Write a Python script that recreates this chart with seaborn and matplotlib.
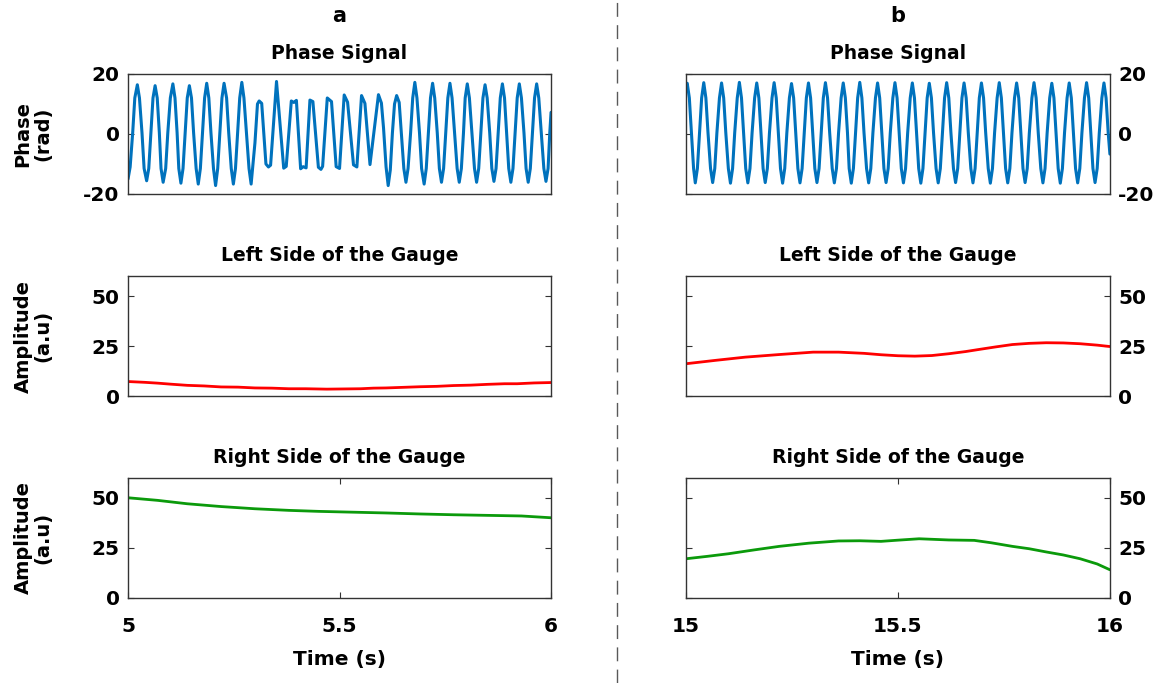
import numpy as np
import matplotlib.pyplot as plt
from matplotlib.lines import Line2D
import seaborn as sns

# ---- values ----
# panel a, phase signal (s, rad), read at roughly every eighth of a cycle
phase_a_t = [
    5.000, 5.005, 5.011, 5.016, 5.022, 5.027, 5.033, 5.038,
    5.044, 5.049, 5.054, 5.059, 5.064, 5.069, 5.074, 5.078,
    5.083, 5.089, 5.094, 5.100, 5.106, 5.111, 5.116, 5.120,
    5.125, 5.130, 5.135, 5.140, 5.145, 5.150, 5.155, 5.161,
    5.166, 5.171, 5.176, 5.181, 5.186, 5.191, 5.196, 5.202,
    5.207, 5.212, 5.217, 5.222, 5.227, 5.233, 5.238, 5.244,
    5.249, 5.254, 5.259, 5.264, 5.269, 5.274, 5.280, 5.286,
    5.291, 5.300, 5.306, 5.310, 5.316, 5.326, 5.332, 5.337,
    5.351, 5.368, 5.374, 5.386, 5.392, 5.398, 5.408, 5.414,
    5.421, 5.430, 5.437, 5.450, 5.456, 5.460, 5.471, 5.481,
    5.492, 5.500, 5.511, 5.519, 5.533, 5.541, 5.552, 5.560,
    5.572, 5.592, 5.599, 5.604, 5.610, 5.615, 5.620, 5.625,
    5.630, 5.635, 5.641, 5.646, 5.652,
    5.657, 5.662, 5.668, 5.673, 5.678, 5.683, 5.689, 5.694,
    5.700, 5.705, 5.710, 5.715, 5.720, 5.725, 5.731, 5.736,
    5.741, 5.746, 5.751, 5.756, 5.761, 5.766, 5.772, 5.778,
    5.783, 5.788, 5.793, 5.797, 5.802, 5.807, 5.813, 5.819,
    5.824, 5.829, 5.834, 5.839, 5.844, 5.849, 5.855, 5.860,
    5.865, 5.870, 5.875, 5.880, 5.885, 5.890, 5.895, 5.900,
    5.905, 5.910, 5.915, 5.920, 5.925, 5.930, 5.936, 5.941,
    5.946, 5.951, 5.956, 5.961, 5.966, 5.971, 5.977, 5.983,
    5.988, 5.993, 5.997, 6.000]
phase_a_v = [
    -15.0, -11.0, 0.4, 12.0, 16.4, 12.0, 0.4, -11.5,
    -15.6, -11.5, 0.4, 12.0, 16.1, 12.0, 0.4, -11.5,
    -16.1, -11.5, 0.4, 12.0, 16.7, 12.0, 0.4, -11.5,
    -16.4, -11.5, 0.4, 12.0, 16.1, 12.0, 0.4, -11.5,
    -16.7, -11.5, 0.4, 12.0, 16.9, 12.0, 0.4, -11.5,
    -17.2, -11.5, 0.4, 12.0, 16.9, 12.0, 0.4, -11.5,
    -16.7, -11.5, 0.4, 12.0, 17.2, 12.0, 0.4, -11.5,
    -16.7, -3.0, 10.0, 11.0, 10.2, -10.0, -11.0, -10.4,
    17.5, -11.4, -10.8, 11.0, 10.5, 11.2, -11.6, -10.9,
    -11.3, 11.3, 10.8, -11.1, -11.8, -10.8, 12.0, 10.8,
    -10.9, -11.5, 13.0, 10.6, -10.3, -11.0, 12.8, 10.2,
    -10.2, 13.1, 10.3, 2.0, -11.0, -17.2, -12.0, 0.4,
    10.0, 12.8, 10.5, 0.4, -11.5,
    -16.1, -11.5, 0.4, 12.0, 17.2, 12.0, 0.4, -11.5,
    -16.7, -11.5, 0.4, 12.0, 16.9, 12.0, 0.4, -11.5,
    -16.1, -11.5, 0.4, 12.0, 16.9, 12.0, 0.4, -11.5,
    -16.1, -11.5, 0.4, 12.0, 16.7, 12.0, 0.4, -11.5,
    -16.1, -11.5, 0.4, 12.0, 16.4, 12.0, 0.4, -11.5,
    -15.8, -11.5, 0.4, 12.0, 16.7, 12.0, 0.4, -11.5,
    -16.1, -11.5, 0.4, 12.0, 16.7, 12.0, 0.4, -11.5,
    -16.1, -11.5, 0.4, 12.0, 16.7, 12.0, 0.4, -11.5,
    -15.8, -11.5, 0.4, 7.2]

# panel b, phase signal
phase_b_t = [
    15.000,
    15.003, 15.008, 15.013, 15.018, 15.022, 15.027, 15.032, 15.037,
    15.042, 15.047, 15.052, 15.058, 15.063, 15.068, 15.073, 15.079,
    15.084, 15.089, 15.094, 15.100, 15.105, 15.110, 15.115, 15.121,
    15.126, 15.131, 15.136, 15.141, 15.146, 15.151, 15.156, 15.162,
    15.167, 15.172, 15.177, 15.182, 15.187, 15.192, 15.197, 15.203,
    15.208, 15.213, 15.218, 15.223, 15.228, 15.233, 15.238, 15.244,
    15.249, 15.254, 15.259, 15.264, 15.269, 15.274, 15.279, 15.284,
    15.289, 15.294, 15.299, 15.304, 15.309, 15.314, 15.319, 15.324,
    15.329, 15.334, 15.339, 15.345, 15.350, 15.355, 15.360, 15.366,
    15.371, 15.376, 15.381, 15.385, 15.390, 15.395, 15.400, 15.405,
    15.410, 15.415, 15.420, 15.426, 15.431, 15.436, 15.441, 15.447,
    15.452, 15.457, 15.462, 15.467, 15.472, 15.477, 15.482, 15.488,
    15.493, 15.498, 15.503, 15.508, 15.513, 15.518, 15.523, 15.529,
    15.534, 15.539, 15.544, 15.549, 15.554, 15.559, 15.564, 15.569,
    15.574, 15.579, 15.584, 15.590, 15.595, 15.600, 15.605, 15.610,
    15.615, 15.620, 15.625, 15.631, 15.636, 15.641, 15.646, 15.651,
    15.656, 15.661, 15.666, 15.672, 15.677, 15.682, 15.687, 15.692,
    15.697, 15.702, 15.707, 15.713, 15.718, 15.723, 15.728, 15.734,
    15.739, 15.744, 15.749, 15.754, 15.759, 15.764, 15.769, 15.775,
    15.780, 15.785, 15.790, 15.795, 15.800, 15.805, 15.810, 15.816,
    15.821, 15.826, 15.831, 15.837, 15.842, 15.847, 15.852, 15.858,
    15.863, 15.868, 15.873, 15.878, 15.883, 15.888, 15.893, 15.899,
    15.904, 15.909, 15.914, 15.919, 15.924, 15.929, 15.934, 15.940,
    15.945, 15.950, 15.955, 15.960, 15.965, 15.970, 15.975, 15.981,
    15.986, 15.991, 15.996, 16.000]
phase_b_v = [
    16.1,
    16.9, 12.0, 0.4, -11.5, -16.3, -11.5, 0.4, 12.0,
    17.1, 12.0, 0.4, -11.5, -16.2, -11.5, 0.4, 12.0,
    17.0, 12.0, 0.4, -11.5, -16.4, -11.5, 0.4, 12.0,
    17.2, 12.0, 0.4, -11.5, -16.3, -11.5, 0.4, 12.0,
    17.0, 12.0, 0.4, -11.5, -16.2, -11.5, 0.4, 12.0,
    17.1, 12.0, 0.4, -11.5, -16.4, -11.5, 0.4, 12.0,
    16.8, 12.0, 0.4, -11.5, -16.3, -11.5, 0.4, 12.0,
    17.0, 12.0, 0.4, -11.5, -16.2, -11.5, 0.4, 12.0,
    17.1, 12.0, 0.4, -11.5, -16.3, -11.5, 0.4, 12.0,
    17.0, 12.0, 0.4, -11.5, -16.4, -11.5, 0.4, 12.0,
    17.2, 12.0, 0.4, -11.5, -16.3, -11.5, 0.4, 12.0,
    17.0, 12.0, 0.4, -11.5, -16.2, -11.5, 0.4, 12.0,
    17.1, 12.0, 0.4, -11.5, -16.3, -11.5, 0.4, 12.0,
    17.0, 12.0, 0.4, -11.5, -16.4, -11.5, 0.4, 12.0,
    16.9, 12.0, 0.4, -11.5, -16.3, -11.5, 0.4, 12.0,
    17.1, 12.0, 0.4, -11.5, -16.2, -11.5, 0.4, 12.0,
    17.0, 12.0, 0.4, -11.5, -16.3, -11.5, 0.4, 12.0,
    17.0, 12.0, 0.4, -11.5, -16.4, -11.5, 0.4, 12.0,
    17.1, 12.0, 0.4, -11.5, -16.3, -11.5, 0.4, 12.0,
    17.0, 12.0, 0.4, -11.5, -16.2, -11.5, 0.4, 12.0,
    17.1, 12.0, 0.4, -11.5, -16.3, -11.5, 0.4, 12.0,
    16.9, 12.0, 0.4, -11.5, -16.4, -11.5, 0.4, 12.0,
    17.0, 12.0, 0.4, -11.5, -16.3, -11.5, 0.4, 12.0,
    17.1, 12.0, 0.4, -11.5, -16.2, -11.5, 0.4, 12.0,
    17.0, 12.0, 0.4, -6.7]

# left side of the gauge (a.u)
left_a_t = [5.00, 5.04, 5.07, 5.10, 5.14, 5.18, 5.22, 5.26, 5.30, 5.34, 5.38, 5.42,
            5.47, 5.51, 5.55, 5.58, 5.61, 5.65, 5.69, 5.73, 5.77, 5.81, 5.85, 5.89,
            5.92, 5.96, 6.00]
left_a_v = [7.3, 6.9, 6.5, 6.0, 5.4, 5.1, 4.6, 4.5, 4.1, 4.0, 3.7, 3.7,
            3.5, 3.6, 3.7, 4.0, 4.1, 4.4, 4.7, 4.9, 5.3, 5.5, 5.9, 6.2,
            6.2, 6.6, 6.8]
left_b_t = [15.00, 15.07, 15.14, 15.22, 15.30, 15.36, 15.42, 15.46, 15.50, 15.54,
            15.58, 15.62, 15.66, 15.69, 15.73, 15.77, 15.81, 15.85, 15.89, 15.93,
            15.97, 16.00]
left_b_v = [16.2, 17.9, 19.5, 20.8, 22.0, 22.0, 21.4, 20.7, 20.2, 20.0,
            20.3, 21.2, 22.3, 23.3, 24.6, 25.8, 26.4, 26.7, 26.6, 26.2,
            25.5, 24.8]

# right side of the gauge (a.u)
right_a_t = [5.00, 5.07, 5.14, 5.22, 5.30, 5.38, 5.45, 5.53, 5.61, 5.69, 5.77,
             5.85, 5.93, 6.00]
right_a_v = [50.1, 48.8, 47.1, 45.7, 44.6, 43.8, 43.3, 42.9, 42.5, 42.0, 41.6,
             41.3, 41.0, 40.1]
right_b_t = [15.00, 15.05, 15.10, 15.16, 15.22, 15.29, 15.36, 15.41, 15.46, 15.50,
             15.55, 15.62, 15.68, 15.72, 15.77, 15.81, 15.85, 15.89, 15.93, 15.97,
             16.00]
right_b_v = [19.6, 20.8, 22.1, 24.0, 25.8, 27.4, 28.5, 28.6, 28.3, 28.9,
             29.6, 29.0, 28.8, 27.6, 25.8, 24.6, 23.0, 21.5, 19.6, 17.0,
             14.1]

xlim_a = (5, 6)
xlim_b = (15, 16)
xticks_a = [5, 5.5, 6]
xticks_b = [15, 15.5, 16]
xticklabels_a = ['5', '5.5', '6']
xticklabels_b = ['15', '15.5', '16']

BLUE = '#0072BD'
RED = '#FF0000'
GREEN = '#0B9A0B'

sns.set_theme(style='white')
plt.rcParams['font.family'] = ['DejaVu Sans']
plt.rcParams['font.weight'] = 'bold'
plt.rcParams['axes.labelweight'] = 'bold'
plt.rcParams['axes.titleweight'] = 'bold'
plt.rcParams['text.color'] = 'black'
plt.rcParams['axes.labelcolor'] = 'black'
plt.rcParams['axes.titlecolor'] = 'black'

FS_TICK = 14.5
FS_TITLE = 13.5
FS_LABEL = 14

fig = plt.figure(figsize=(11.65, 6.83), dpi=100)

col_x = [0.1099, 0.5888]
col_w = [0.3631, 0.3639]
row_y = [0.716, 0.420, 0.1245]
row_h = 0.1757

panels = [
    # (col, row, t, v, colour, title, ylim, yticks)
    (0, 0, phase_a_t, phase_a_v, BLUE, 'Phase Signal', (-20, 20), [-20, 0, 20]),
    (1, 0, phase_b_t, phase_b_v, BLUE, 'Phase Signal', (-20, 20), [-20, 0, 20]),
    (0, 1, left_a_t, left_a_v, RED, 'Left Side of the Gauge', (0, 60), [0, 25, 50]),
    (1, 1, left_b_t, left_b_v, RED, 'Left Side of the Gauge', (0, 60), [0, 25, 50]),
    (0, 2, right_a_t, right_a_v, GREEN, 'Right Side of the Gauge', (0, 60), [0, 25, 50]),
    (1, 2, right_b_t, right_b_v, GREEN, 'Right Side of the Gauge', (0, 60), [0, 25, 50]),
]

for col, row, t, v, colour, title, ylim, yticks in panels:
    ax = fig.add_axes([col_x[col], row_y[row], col_w[col], row_h])
    lw = 2.2 if row == 0 else 2.0
    sns.lineplot(x=t, y=v, ax=ax, color=colour, linewidth=lw, estimator=None)
    ax.lines[-1].set_solid_joinstyle('round')
    ax.set_xlim(xlim_a if col == 0 else xlim_b)
    ax.set_ylim(ylim)
    ax.set_yticks(yticks)
    ax.set_yticklabels([str(y) for y in yticks], fontsize=FS_TICK, fontweight='bold')
    ax.set_title(title, fontsize=FS_TITLE, fontweight='bold', pad=11)

    for s in ax.spines.values():
        s.set_visible(True)
        s.set_color('0.2')
        s.set_linewidth(1.0)

    ax.tick_params(axis='y', direction='in', length=4, width=0.8, color='0.2',
                   left=True, right=True, labelleft=(col == 0), labelright=(col == 1),
                   pad=6, labelcolor='black')

    if row == 2:
        ax.set_xticks(xticks_a if col == 0 else xticks_b)
        ax.set_xticklabels(xticklabels_a if col == 0 else xticklabels_b,
                           fontsize=FS_TICK, fontweight='bold')
        ax.tick_params(axis='x', direction='in', length=4, width=0.8, color='0.2',
                       bottom=True, top=True, pad=14, labelcolor='black')
        ax.set_xlabel('Time (s)', fontsize=FS_LABEL + 0.5, fontweight='bold', labelpad=10)
    else:
        ax.set_xticks([])
        ax.set_xlabel('')

    if col == 0:
        ylab = 'Phase\n(rad)' if row == 0 else 'Amplitude\n(a.u)'
        ax.set_ylabel(ylab, fontsize=FS_LABEL, fontweight='bold', linespacing=1.05)
        ax.yaxis.set_label_coords(-0.225, 0.5)
        ax.yaxis.label.set_va('center')
    else:
        ax.set_ylabel('')

    if row == 0:
        ax.text(0.5, 1.40, 'ab'[col], transform=ax.transAxes, ha='center',
                va='bottom', fontsize=FS_TITLE + 1.5, fontweight='bold')

# dashed separator between the two columns
fig.add_artist(Line2D([617 / 1165, 617 / 1165], [0.0, 1.0], transform=fig.transFigure,
                      color='0.35', linewidth=1.0, linestyle=(0, (10, 6))))

fig.savefig('out.png', dpi=100)
